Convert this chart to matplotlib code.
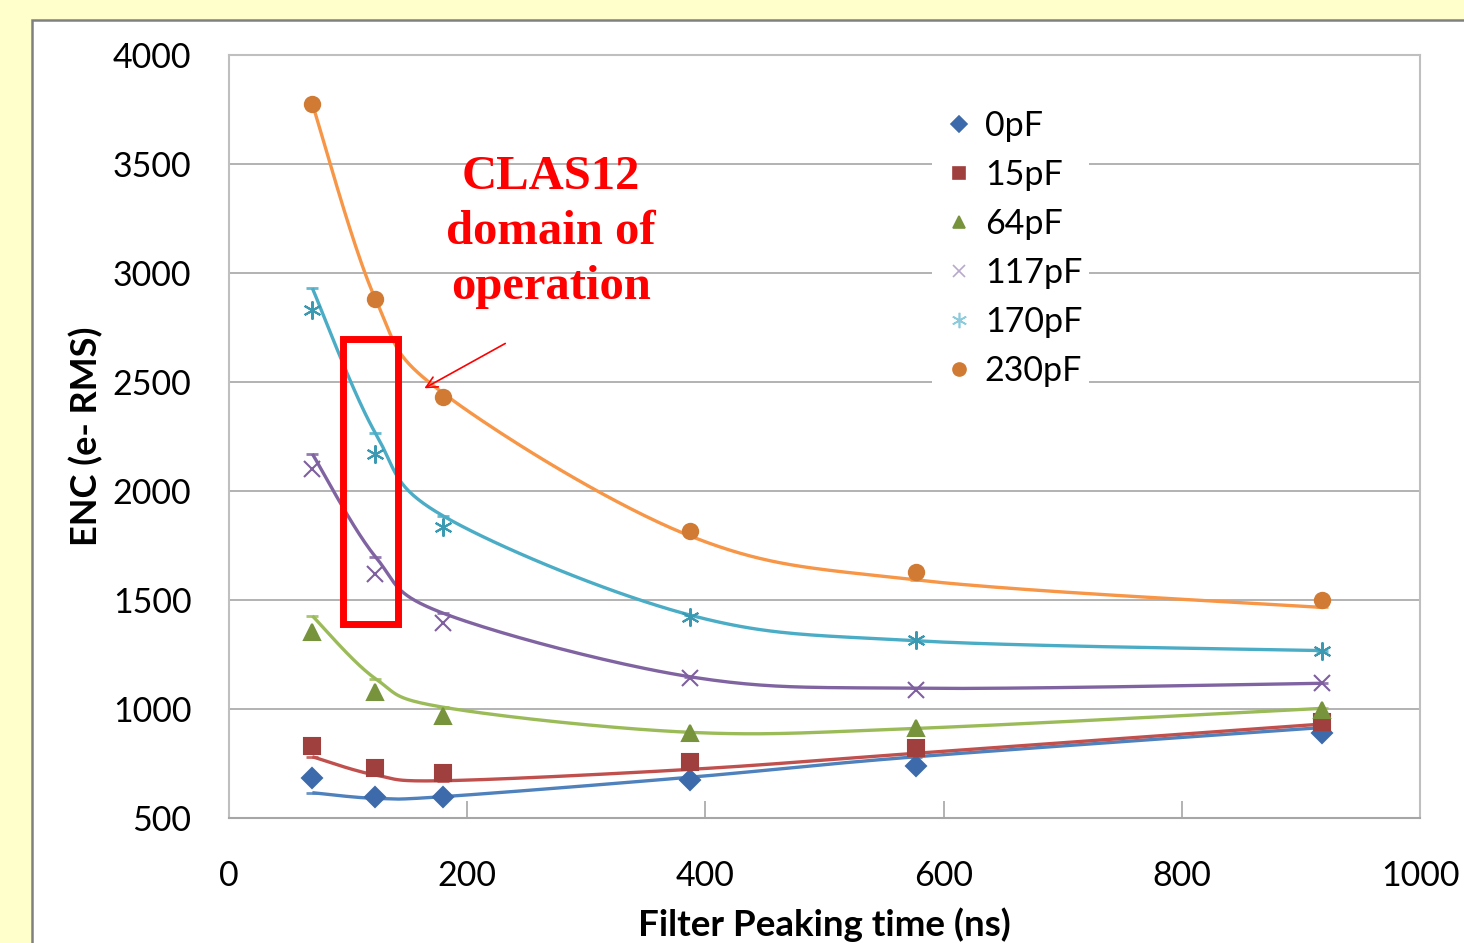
import numpy as np
import matplotlib
matplotlib.use("Agg")
import matplotlib.pyplot as plt
from matplotlib.patches import Rectangle, FancyArrowPatch
from matplotlib.lines import Line2D

# ---- data: measured points ----
peaking_time = [70, 123, 180, 387, 577, 918]
series_names = ["0pF", "15pF", "64pF", "117pF", "170pF", "230pF"]
enc_0pF = [682, 598, 598, 676, 739, 892]
enc_15pF = [830, 728, 708, 758, 820, 940]
enc_64pF = [1354, 1079, 968, 889, 911, 997]
enc_117pF = [2100, 1619, 1393, 1141, 1089, 1118]
enc_170pF = [2830, 2168, 1833, 1423, 1317, 1266]
enc_230pF = [3775, 2881, 2433, 1818, 1630, 1502]
all_series = [enc_0pF, enc_15pF, enc_64pF, enc_117pF, enc_170pF, enc_230pF]

# ---- data: model curves (values read at the same peaking times) ----
curve_0pF = [616, 590, 598, 687, 781, 915]
curve_15pF = [781, 697, 671, 723, 797, 931]
curve_64pF = [1427, 1139, 1008, 893, 911, 1003]
curve_117pF = [2170, 1698, 1439, 1148, 1095, 1118]
curve_170pF = [2930, 2265, 1885, 1431, 1313, 1268]
curve_230pF = [3775, 2880, 2448, 1794, 1592, 1466]
all_curves = [curve_0pF, curve_15pF, curve_64pF, curve_117pF, curve_170pF, curve_230pF]

x_ticks = [0, 200, 400, 600, 800, 1000]
y_ticks = [500, 1000, 1500, 2000, 2500, 3000, 3500, 4000]

# ---- styles ----
line_colors = ["#4F81BD", "#C0504D", "#9BBB59", "#8064A2", "#4BACC6", "#F79646"]
marker_colors = ["#3D6AAA", "#A0403E", "#77933C", "#7F5F9F", "#3B9AB2", "#D07A33"]
marker_legend_colors = ["#3D6AAA", "#A0403E", "#77933C", "#B8A8CC", "#8CCBDC", "#D07A33"]
markers = ["D", "s", "^", "x", (6, 2, 0), "o"]
msizes = [10, 11, 11, 11, 13, 11]

W, H = 1464, 943
fig = plt.figure(figsize=(W / 100, H / 100), dpi=100)
fig.patch.set_facecolor("#FFFFCC")
panel = Rectangle((32 / W, -0.05), 1.2, (H - 20) / H + 0.05,
                  transform=fig.transFigure, facecolor="white",
                  edgecolor="#808080", linewidth=1.8, zorder=-10)
fig.add_artist(panel)

ax = fig.add_axes([229 / W, (H - 818) / H, (1420 - 229) / W, (818 - 55) / H])
ax.set_zorder(1)
ax.set_xlim(0, 1000)
ax.set_ylim(500, 4000)
ax.set_xticks(x_ticks)
ax.set_yticks(y_ticks)
ax.grid(axis="y", color="#A6A6A6", linewidth=1.2)
ax.set_axisbelow(True)
for s in ax.spines.values():
    s.set_color("#BFBFBF")
    s.set_linewidth(1.5)
ax.spines["bottom"].set_color("#A6A6A6")
ax.tick_params(axis="x", direction="in", length=12, width=1.2, color="#A6A6A6",
               labelsize=24.5, pad=30, top=False)
ax.tick_params(axis="y", length=0, labelsize=24.5, pad=27)
for lab in ax.get_xticklabels() + ax.get_yticklabels():
    lab.set_fontfamily("Lato")


def smooth_line(xv, yv, n=40):
    """Excel-style smoothed line: cubic Bezier segments with Catmull-Rom
    control points, computed in display (pixel) space."""
    pts = ax.transData.transform(np.column_stack([xv, yv]))
    P = np.vstack([pts[0], pts, pts[-1]])
    t = np.linspace(0, 1, n)[:, None]
    segs = []
    for i in range(1, len(P) - 2):
        p0, p1, p2, p3 = P[i - 1], P[i], P[i + 1], P[i + 2]
        c1 = p1 + (p2 - p0) / 6
        c2 = p2 - (p3 - p1) / 6
        seg = ((1 - t) ** 3) * p1 + 3 * ((1 - t) ** 2) * t * c1 \
            + 3 * (1 - t) * t ** 2 * c2 + t ** 3 * p2
        segs.append(seg if i == 1 else seg[1:])
    out = ax.transData.inverted().transform(np.vstack(segs))
    return out[:, 0], out[:, 1]


xs = np.array(peaking_time, dtype=float)
for vals, cv, lc, mc, mk, ms in zip(all_series, all_curves, line_colors,
                                    marker_colors, markers, msizes):
    sx, sy = smooth_line(xs, np.array(cv, dtype=float))
    ax.plot(sx, sy, color=lc, linewidth=2.4, zorder=3, solid_capstyle="butt")
    ax.plot(xs, cv, linestyle="none", marker="_", markersize=8,
            markeredgewidth=2.0, color=lc, alpha=0.85, zorder=3)
    ax.plot(xs, vals, linestyle="none", marker=mk, markersize=ms, color=mc,
            markeredgecolor=mc, markeredgewidth=1.5, zorder=4)

# legend
handles = [Line2D([], [], linestyle="none", marker=mk, color=c, markeredgecolor=c,
                  markersize=ms * 0.85, markeredgewidth=1.2)
           for mk, c, ms in zip(markers, marker_legend_colors, msizes)]
leg = ax.legend(handles, series_names, loc="upper left",
                bbox_to_anchor=((932 - 229) / (1420 - 229), (818 - 103) / (818 - 55)),
                frameon=True, framealpha=1, edgecolor="none", facecolor="white",
                fancybox=False, prop={"family": "Lato", "size": 24.5},
                handletextpad=0.15, labelspacing=0.5, handlelength=1.2,
                borderpad=0.2, borderaxespad=0)
leg.set_zorder(5)

# red box
ax.add_patch(Rectangle((96, 1390), 46, 1307, fill=False, edgecolor="#FF0000",
                       linewidth=5, zorder=6))
ax.text(270, 3188, "CLAS12\ndomain of\noperation", color="#FF0000",
        family="Liberation Serif", fontweight="bold", fontsize=35,
        ha="center", va="center", linespacing=1.33, zorder=6)
ax.add_patch(FancyArrowPatch((234, 2683), (162, 2465),
                             arrowstyle="->,head_length=8,head_width=4",
                             color="#FF0000", linewidth=1.2, zorder=6))

ax.set_xlabel("Filter Peaking time (ns)", family="Lato", fontweight="bold",
              fontsize=26.5, labelpad=11)
ax.set_ylabel("ENC (e- RMS)", family="Lato", fontweight="bold", fontsize=26,
              labelpad=7)

fig.savefig("out.png", dpi=100, facecolor=fig.get_facecolor())
